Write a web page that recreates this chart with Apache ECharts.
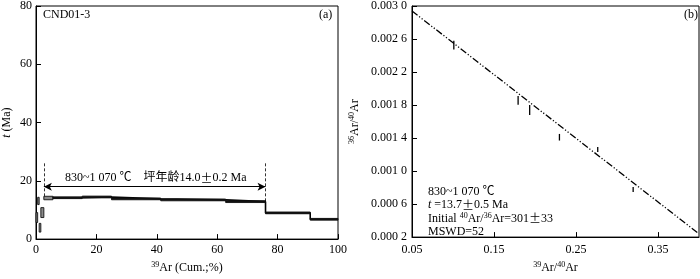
<!DOCTYPE html>
<html><head><meta charset="utf-8">
<script src="https://cdn.jsdelivr.net/npm/echarts@6/dist/echarts.min.js"></script>
<style>html,body{margin:0;padding:0;background:#fff}#c{width:700px;height:279px}</style>
</head><body><div id="c"></div>
<script>
// ---- (a) age spectrum ----
const stepStart = [0, 0.55, 1.05, 1.6, 2.6, 5.6, 15.3, 25.0, 41.3, 62.8, 76.0, 90.8];
const stepEnd   = [0.55, 1.05, 1.6, 2.6, 5.6, 15.3, 25.0, 41.3, 62.8, 76.0, 90.8, 100];
const stepAge   = [7.4, 13.1, 3.9, 9.1, 14.1, 14.2, 14.45, 13.8, 13.45, 12.85, 9.0, 6.8];
const stepErr   = [1.7, 1.25, 1.5, 1.7, 0.6, 0.3, 0.3, 0.3, 0.3, 0.3, 0.3, 0.3];
const plateauRange = [2.6, 76.0];
const ageTicks = [0, 20, 40, 60, 80];
const cumTicks = [0, 20, 40, 60, 80, 100];
// ---- (b) inverse isochron ----
const isoX   = [0.101, 0.1794, 0.1935, 0.2298, 0.2765, 0.3197];
const isoY   = [0.002526, 0.001857, 0.001740, 0.001410, 0.001261, 0.000776];
const isoErr = [0.000052, 0.000054, 0.00006, 0.00004, 0.00003, 0.00003];
const fitX = [0.05, 0.40];
const fitY = [0.00294, 0.00024];
const ratioXTicks = [0.05, 0.15, 0.25, 0.35];
const ratioYTicks = [0.0002, 0.0006, 0.0010, 0.0014, 0.0018, 0.0022, 0.0026, 0.0030];

const FONT = '"Liberation Serif","Times New Roman","Noto Sans CJK SC",serif';
const CJK = '"Noto Sans CJK SC",sans-serif';
const chart = echarts.init(document.getElementById('c'), null, {renderer:'canvas'});

const boxData = stepStart.map((s,i)=>[s, stepEnd[i], stepAge[i], stepErr[i], i]);
const stepLine = [];
for (let i = 4; i < stepStart.length; i++) stepLine.push([stepStart[i], stepAge[i]]);
stepLine.push([stepEnd[stepEnd.length-1], stepAge[stepAge.length-1]]);
const errData = isoX.map((x,i)=>[x, isoY[i], isoErr[i]]);

const axisCommon = {
  axisLine:{show:true, onZero:false, lineStyle:{color:'#000', width:1}},
  axisTick:{show:true, inside:true, length:5, lineStyle:{color:'#000'}},
  splitLine:{show:false},
  axisLabel:{color:'#000', fontFamily:FONT, fontSize:12},
  nameTextStyle:{color:'#000', fontFamily:FONT, fontSize:12}
};
const supRich = {s:{fontSize:8, verticalAlign:'top', fontFamily:FONT, lineHeight:14}};

chart.setOption({
  animation:false,
  grid:[
    {left:34, right:362, top:4, bottom:37, show:true, borderColor:'#000', borderWidth:1},
    {left:412, right:1, top:3, bottom:35, show:true, borderColor:'#000', borderWidth:1}
  ],
  xAxis:[
    Object.assign({}, axisCommon, {gridIndex:0, type:'value', min:cumTicks[0], max:cumTicks[cumTicks.length-1], interval:20,
      axisLabel:Object.assign({}, axisCommon.axisLabel, {margin:5}),
      name:'{s|39}Ar (Cum.;%)', nameLocation:'middle', nameGap:18,
      nameTextStyle:{color:'#000', fontFamily:FONT, fontSize:12, rich:supRich}}),
    Object.assign({}, axisCommon, {gridIndex:1, type:'value', min:ratioXTicks[0], max:0.40, interval:0.1,
      axisLabel:Object.assign({}, axisCommon.axisLabel, {margin:7, formatter:v=>v.toFixed(2), showMaxLabel:false}),
      name:'{s|39}Ar/{s|40}Ar', nameLocation:'middle', nameGap:17,
      nameTextStyle:{color:'#000', fontFamily:FONT, fontSize:12, rich:supRich}})
  ],
  yAxis:[
    Object.assign({}, axisCommon, {gridIndex:0, type:'value', min:ageTicks[0], max:ageTicks[ageTicks.length-1], interval:20,
      axisLabel:Object.assign({}, axisCommon.axisLabel, {margin:4}),
      name:'{i|t} (Ma)', nameLocation:'middle', nameGap:23, nameRotate:90,
      nameTextStyle:{color:'#000', fontFamily:FONT, fontSize:12, rich:{i:{fontStyle:'italic', fontFamily:FONT, fontSize:12}}}}),
    Object.assign({}, axisCommon, {gridIndex:1, type:'value', min:ratioYTicks[0], max:ratioYTicks[ratioYTicks.length-1], interval:0.0004,
      axisLabel:Object.assign({}, axisCommon.axisLabel, {margin:5, formatter:v=>{const s=v.toFixed(4); return s.slice(0,5)+' '+s.slice(5);}}),
      name:'{s|36}Ar/{s|40}Ar', nameLocation:'middle', nameGap:50, nameRotate:90,
      nameTextStyle:{color:'#000', fontFamily:FONT, fontSize:12, rich:supRich}})
  ],
  series:[
    {type:'line', xAxisIndex:0, yAxisIndex:0, data:stepLine, step:'end', symbol:'none',
      lineStyle:{color:'#000', width:1.6}, z:3},
    {type:'custom', xAxisIndex:0, yAxisIndex:0, data:boxData, encode:{x:[0,1], y:2}, z:4,
      renderItem:function(params, api){
        const p0 = api.coord([api.value(0), api.value(2)+api.value(3)]);
        const p1 = api.coord([api.value(1), api.value(2)-api.value(3)]);
        const idx = api.value(4);
        return {type:'rect', shape:{x:p0[0], y:p0[1], width:p1[0]-p0[0], height:p1[1]-p0[1]},
          style:{fill: idx >= 5 ? '#111' : '#8a8a8a', stroke:'#111', lineWidth:0.9}};
      }},
    {type:'line', xAxisIndex:0, yAxisIndex:0, data:[], symbol:'none',
      markLine:{silent:true, symbol:['arrow','arrow'], symbolSize:[6,8], label:{show:false},
        lineStyle:{color:'#000', width:1, type:'solid'},
        data:[[{coord:[plateauRange[0],18]},{coord:[plateauRange[1],18]}]]}},
    {type:'line', xAxisIndex:0, yAxisIndex:0, data:[], symbol:'none',
      markLine:{silent:true, symbol:['none','none'], label:{show:false},
        lineStyle:{color:'#000', width:0.8, type:[3,2]},
        data:[[{coord:[plateauRange[0],26]},{coord:[plateauRange[0],stepAge[4]+stepErr[4]]}],
              [{coord:[plateauRange[1],26]},{coord:[plateauRange[1],stepAge[9]]}]]}},
    {type:'line', xAxisIndex:1, yAxisIndex:1, data:fitX.map((x,i)=>[x,fitY[i]]), symbol:'none',
      lineStyle:{color:'#000', width:1.3, type:[7,2,1.2,2,1.2,2]}, z:2},
    {type:'custom', xAxisIndex:1, yAxisIndex:1, data:errData, encode:{x:0, y:1}, z:3,
      renderItem:function(params, api){
        const a = api.coord([api.value(0), api.value(1)+api.value(2)]);
        const b = api.coord([api.value(0), api.value(1)-api.value(2)]);
        return {type:'line', shape:{x1:a[0], y1:a[1], x2:b[0], y2:b[1]}, style:{stroke:'#000', lineWidth:1.3}};
      }}
  ],
  graphic:[
    {type:'text', left:43, top:9, style:{text:'CND01-3', font:'12px '+FONT, fill:'#000'}},
    {type:'text', left:319, top:9, style:{text:'(a)', font:'12px '+FONT, fill:'#000'}},
    {type:'text', left:684, top:9, style:{text:'(b)', font:'12px '+FONT, fill:'#000'}},
    {type:'text', left:65, top:172, style:{text:'830~1 070 \u2103\u3000坪年龄14.0{p|\u00b1}0.2 Ma', font:'12px '+FONT, fill:'#000',
      rich:{p:{fontFamily:CJK, fontSize:12}}}},
    {type:'text', left:428, top:185, style:{
      text:'830~1 070 \u2103\n{i|t} =13.7{p|\u00b1}0.5 Ma\nInitial {s|40}Ar/{s|36}Ar=301{p|\u00b1}33\nMSWD=52',
      font:'12px '+FONT, fill:'#000', lineHeight:13.5,
      rich:{i:{fontStyle:'italic', fontFamily:FONT, fontSize:12, lineHeight:13.5},
            p:{fontFamily:CJK, fontSize:12, lineHeight:13.5},
            s:{fontSize:8, verticalAlign:'top', fontFamily:FONT, lineHeight:13.5}}}}
  ]
});
</script>
</body></html>
